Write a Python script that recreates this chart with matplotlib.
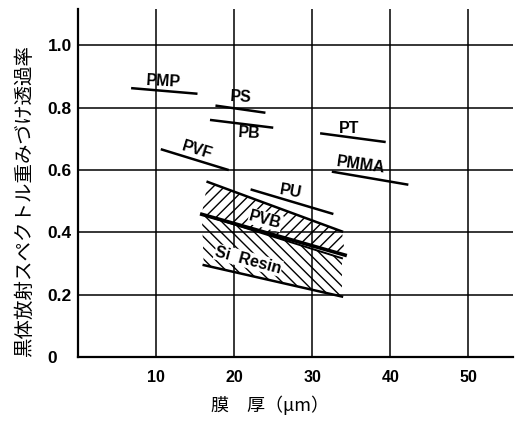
import numpy as np
import matplotlib
matplotlib.use("Agg")
import matplotlib.pyplot as plt

plt.rcParams['hatch.linewidth'] = 1.0

# 各フィルムの直線 (膜厚 x1, x2 / 透過率 y1, y2)
FILMS = ["PMP", "PS", "PB", "PVF", "PT", "PMMA", "PU"]
x_start = [6.8, 17.6, 16.9, 10.6, 31.0, 32.5, 22.1]
x_end   = [15.3, 24.0, 25.0, 19.3, 39.4, 42.3, 32.7]
y_start = [0.863, 0.807, 0.761, 0.667, 0.718, 0.595, 0.538]
y_end   = [0.845, 0.784, 0.736, 0.600, 0.690, 0.553, 0.459]

# ラベル位置と傾き
label_x   = [10.9, 20.9, 21.9, 15.2, 34.7, 36.2, 27.2]
label_y   = [0.883, 0.834, 0.718, 0.665, 0.734, 0.617, 0.531]
label_rot = [-3, -3, -3, -17, 0, -8, -10]

# PVB 帯 (上端 / 下端)
pvb_top_x = [16.6, 33.8]
pvb_top_y = [0.562, 0.403]
pvb_bot_x = [15.85, 34.2]
pvb_bot_y = [0.458, 0.327]

# Si Resin 帯 (上端 / 下端)
si_top_x = [15.85, 33.8]
si_top_y = [0.458, 0.317]
si_bot_x = [16.1, 33.8]
si_bot_y = [0.295, 0.194]

xticks = [10, 20, 30, 40, 50]
yticks = [0, 0.2, 0.4, 0.6, 0.8, 1.0]
ytick_labels = ["0", "0.2", "0.4", "0.6", "0.8", "1.0"]

fig = plt.figure(figsize=(5.23, 4.22), dpi=100)
ax = fig.add_axes([78/523, 65/422, 435/523, 348/422])
ax.set_xlim(0, 55.7)
ax.set_ylim(0, 1.117)

# グリッド
ax.set_xticks(xticks)
ax.set_yticks(yticks)
ax.set_yticklabels(ytick_labels)
ax.grid(True, color="black", linewidth=1.1, zorder=0)
ax.set_axisbelow(True)
ax.tick_params(length=0)
ax.tick_params(axis="x", pad=9)
ax.tick_params(axis="y", pad=22)
for lab in ax.get_yticklabels():
    lab.set_horizontalalignment("left")
    lab.set_fontfamily("Liberation Sans")
    lab.set_fontweight("bold")
    lab.set_fontsize(12.5)
for lab in ax.get_xticklabels():
    lab.set_fontfamily("Liberation Sans")
    lab.set_fontweight("bold")
    lab.set_fontsize(11.5)

for s in ["top", "right"]:
    ax.spines[s].set_visible(False)
for s in ["left", "bottom"]:
    ax.spines[s].set_linewidth(1.6)

# 各フィルム
for i, name in enumerate(FILMS):
    ax.plot([x_start[i], x_end[i]], [y_start[i], y_end[i]], color="black",
            linewidth=1.8, solid_capstyle="butt", zorder=3)
    ax.text(label_x[i], label_y[i], name, rotation=label_rot[i],
            ha="center", va="center", fontsize=11.5, fontweight="bold",
            family="Liberation Sans", zorder=4)

# PVB 帯
ax.fill(pvb_top_x + pvb_bot_x[::-1], pvb_top_y + pvb_bot_y[::-1],
        facecolor="none", edgecolor="black", linewidth=0, hatch="///", zorder=2)
ax.plot(pvb_top_x, pvb_top_y, color="black", linewidth=1.8, zorder=3)
ax.plot(pvb_bot_x, pvb_bot_y, color="black", linewidth=2.6, zorder=3)
ax.text(24.0, 0.440, "PVB", rotation=-15, ha="center", va="center",
        fontsize=11.5, fontweight="bold", family="Liberation Sans",
        bbox=dict(facecolor="white", edgecolor="none", pad=0.5), zorder=4)

# Si Resin 帯
ax.fill(si_top_x + si_bot_x[::-1], si_top_y + si_bot_y[::-1],
        facecolor="none", edgecolor="black", linewidth=0, hatch="\\\\\\", zorder=2)
ax.plot(si_top_x, si_top_y, color="black", linewidth=1.4, zorder=3)
ax.plot(si_bot_x, si_bot_y, color="black", linewidth=1.8, zorder=3)
ax.text(21.8, 0.311, "Si  Resin", rotation=-15, ha="center", va="center",
        fontsize=11.5, fontweight="bold", family="Liberation Sans",
        bbox=dict(facecolor="white", edgecolor="none", pad=0.5), zorder=4)

# 軸ラベル
fig.text(24/523, 1 - 201/422, "黒体放射スペクトル重みづけ透過率", rotation=90,
         ha="center", va="center", fontsize=14,
         family=["Noto Sans CJK JP", "DejaVu Sans"])
fig.text(270/523, 1 - 405/422, "膜　厚（μm）", ha="center", va="center",
         fontsize=13, family=["Noto Sans CJK JP", "DejaVu Sans"])

fig.savefig("out.png", dpi=100)
